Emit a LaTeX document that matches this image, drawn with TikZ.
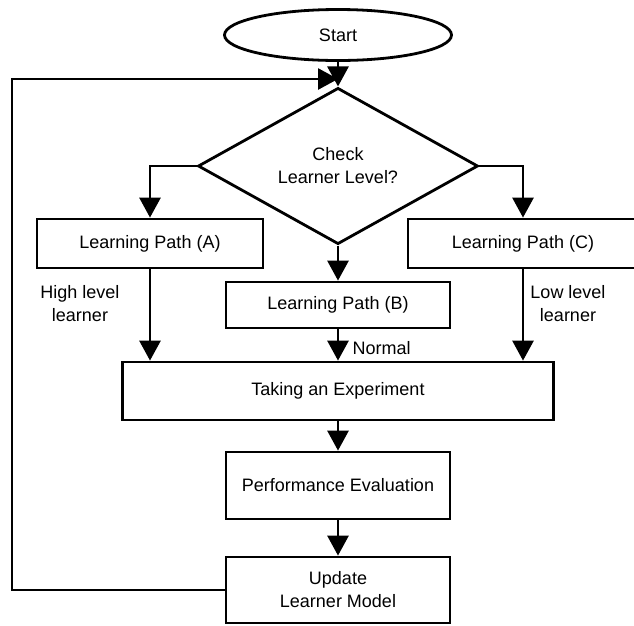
\documentclass[tikz,border=0pt]{standalone}
\usepackage{fontspec}
\setmainfont{Liberation Sans}
\usetikzlibrary{shapes.geometric,positioning,arrows.meta}

\begin{document}
\begin{tikzpicture}[x=1pt, y=-1pt, on grid,
    font=\fontsize{18}{23}\selectfont,
    every node/.style={align=center},
    box/.style={draw, line width=2.8pt, minimum width=224pt, minimum height=46pt, inner sep=0pt},
    decision/.style={draw, diamond, line width=2.8pt, minimum width=280pt, minimum height=104pt, inner sep=0pt},
    startstop/.style={draw, ellipse, line width=2.8pt, minimum width=227pt, minimum height=51pt, inner sep=0pt},
    arrow/.style={line width=2.8pt, -{Triangle[length=20pt,width=21pt]}},
    line/.style={line width=2.8pt}]

  \useasboundingbox (0,0) rectangle (634,625);
  \clip (0,0) rectangle (634,625);

  \node[startstop] (start) at (338,35) {Start};
  \node[decision] (check) [below=131pt of start] {Check\\Learner Level?};
  \node[box, minimum width=226pt, minimum height=49pt] (pathA) [below left=77.5pt and 188pt of check] {Learning Path (A)};
  \node[box, minimum width=230pt, minimum height=49pt] (pathC) [below right=77.5pt and 185pt of check] {Learning Path (C)};
  \node[box] (pathB) [below=139pt of check] {Learning Path (B)};
  \node[box, minimum width=431pt, minimum height=58pt] (exp) [below=86pt of pathB] {Taking an Experiment};
  \node[box, minimum height=67pt] (perf) [below=94.5pt of exp] {Performance Evaluation};
  \node[box, minimum height=66pt] (update) [below=104.5pt of perf] {Update\\Learner Model};

  \node (high) at (80,304) {High level\\learner};
  \node (low) at (568,304) {Low level\\learner};

  \coordinate[above=87pt of check] (join);
  \coordinate (back) at (12,79);

  \draw[line] (start) -- (join);
  \draw[arrow] (join) -- (check);
  \draw[arrow] (check.west) -| (pathA);
  \draw[arrow] (check.east) -| (pathC);
  \draw[arrow] (check) -- (pathB);

  \draw[arrow] (pathA) -- (pathA |- exp.north);
  \draw[arrow] (pathB) -- (exp) node[pos=0.6, right, xshift=10pt] {Normal};
  \draw[arrow] (pathC) -- (pathC |- exp.north);

  \draw[arrow] (exp) -- (perf);
  \draw[arrow] (perf) -- (update);
  \draw[arrow] (update.west) -| (back) -- (join);

\end{tikzpicture}
\end{document}
